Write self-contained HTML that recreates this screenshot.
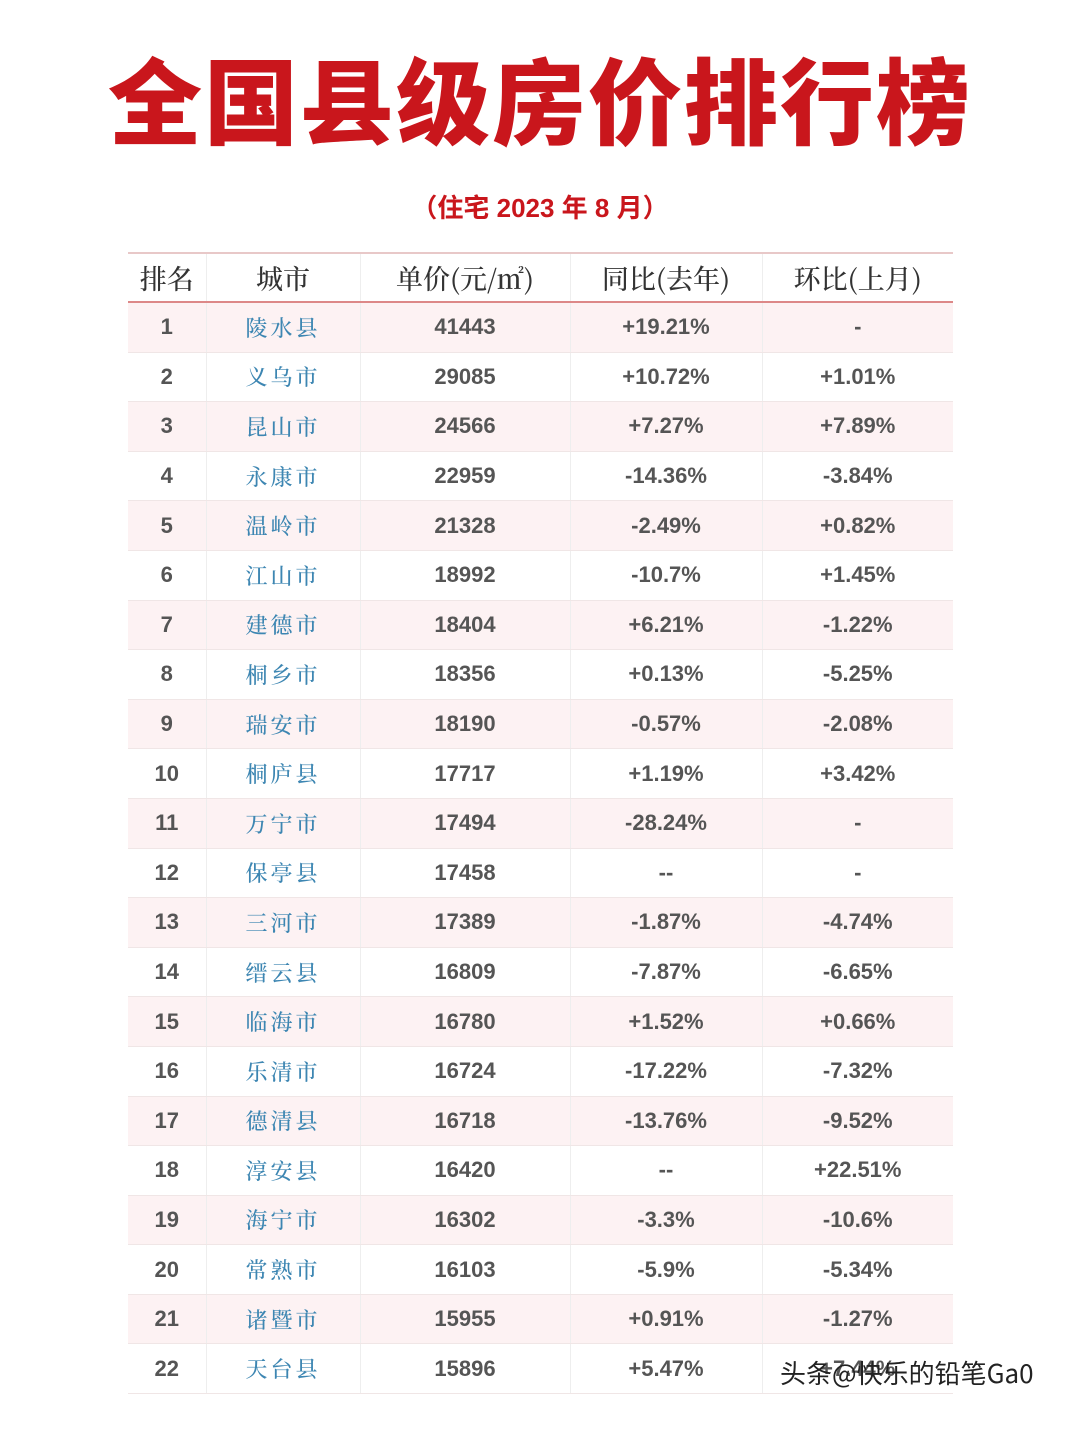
<!DOCTYPE html>
<html><head><meta charset="utf-8"><style>
body{margin:0;width:1080px;height:1439px;background:#fff;position:relative;overflow:hidden;font-family:"Liberation Sans","Noto Sans CJK SC",sans-serif}
.t{position:absolute;left:0;width:1080px;top:40px;text-align:center;font-size:94px;font-weight:900;color:#c9161c;font-family:"Noto Sans CJK SC",sans-serif;line-height:114px;letter-spacing:2px}
.s{position:absolute;left:0;width:1080px;top:190px;text-align:center;font-size:26px;font-weight:bold;color:#c9161c;line-height:36px;font-family:"Liberation Sans","Noto Sans CJK SC",sans-serif}
.tb{position:absolute;left:128px;top:252px;border-collapse:collapse;width:825px}
.tb td{height:48.6px;padding:0;text-align:center;border-right:1px solid #eee;border-bottom:1px solid #f0e6e6;font-weight:bold;font-size:22px;color:#555}
.tb td:last-child{border-right:none}
.tb tr.h td{height:47px;font-family:"Noto Serif CJK SC",serif;font-weight:500;font-size:27px;color:#333;border-top:2px solid #e8c8c8;border-bottom:2px solid #d88;}
.tb tr:nth-child(even) td{background:#fdf2f3}
.tb td.c{color:#3d86b2;font-family:"Noto Serif CJK SC",serif;font-weight:500;letter-spacing:3px}
.w{position:absolute;left:780px;top:1354px;font-size:26px;color:#222;font-family:"Noto Sans CJK SC",sans-serif}
</style></head><body>
<div class="t">全国县级房价排行榜</div>
<div class="s">（住宅 2023 年 8 月）</div>
<table class="tb">
<colgroup><col style="width:78px"><col style="width:154px"><col style="width:210px"><col style="width:192px"><col style="width:191px"></colgroup>
<tr class="h"><td>排名</td><td>城市</td><td>单价(元/㎡)</td><td>同比(去年)</td><td>环比(上月)</td></tr>
<tr><td>1</td><td class="c">陵水县</td><td>41443</td><td>+19.21%</td><td>-</td></tr>
<tr><td>2</td><td class="c">义乌市</td><td>29085</td><td>+10.72%</td><td>+1.01%</td></tr>
<tr><td>3</td><td class="c">昆山市</td><td>24566</td><td>+7.27%</td><td>+7.89%</td></tr>
<tr><td>4</td><td class="c">永康市</td><td>22959</td><td>-14.36%</td><td>-3.84%</td></tr>
<tr><td>5</td><td class="c">温岭市</td><td>21328</td><td>-2.49%</td><td>+0.82%</td></tr>
<tr><td>6</td><td class="c">江山市</td><td>18992</td><td>-10.7%</td><td>+1.45%</td></tr>
<tr><td>7</td><td class="c">建德市</td><td>18404</td><td>+6.21%</td><td>-1.22%</td></tr>
<tr><td>8</td><td class="c">桐乡市</td><td>18356</td><td>+0.13%</td><td>-5.25%</td></tr>
<tr><td>9</td><td class="c">瑞安市</td><td>18190</td><td>-0.57%</td><td>-2.08%</td></tr>
<tr><td>10</td><td class="c">桐庐县</td><td>17717</td><td>+1.19%</td><td>+3.42%</td></tr>
<tr><td>11</td><td class="c">万宁市</td><td>17494</td><td>-28.24%</td><td>-</td></tr>
<tr><td>12</td><td class="c">保亭县</td><td>17458</td><td>--</td><td>-</td></tr>
<tr><td>13</td><td class="c">三河市</td><td>17389</td><td>-1.87%</td><td>-4.74%</td></tr>
<tr><td>14</td><td class="c">缙云县</td><td>16809</td><td>-7.87%</td><td>-6.65%</td></tr>
<tr><td>15</td><td class="c">临海市</td><td>16780</td><td>+1.52%</td><td>+0.66%</td></tr>
<tr><td>16</td><td class="c">乐清市</td><td>16724</td><td>-17.22%</td><td>-7.32%</td></tr>
<tr><td>17</td><td class="c">德清县</td><td>16718</td><td>-13.76%</td><td>-9.52%</td></tr>
<tr><td>18</td><td class="c">淳安县</td><td>16420</td><td>--</td><td>+22.51%</td></tr>
<tr><td>19</td><td class="c">海宁市</td><td>16302</td><td>-3.3%</td><td>-10.6%</td></tr>
<tr><td>20</td><td class="c">常熟市</td><td>16103</td><td>-5.9%</td><td>-5.34%</td></tr>
<tr><td>21</td><td class="c">诸暨市</td><td>15955</td><td>+0.91%</td><td>-1.27%</td></tr>
<tr><td>22</td><td class="c">天台县</td><td>15896</td><td>+5.47%</td><td>+7.44%</td></tr>
</table>
<div class="w">头条@快乐的铅笔Ga0</div>
</body></html>
